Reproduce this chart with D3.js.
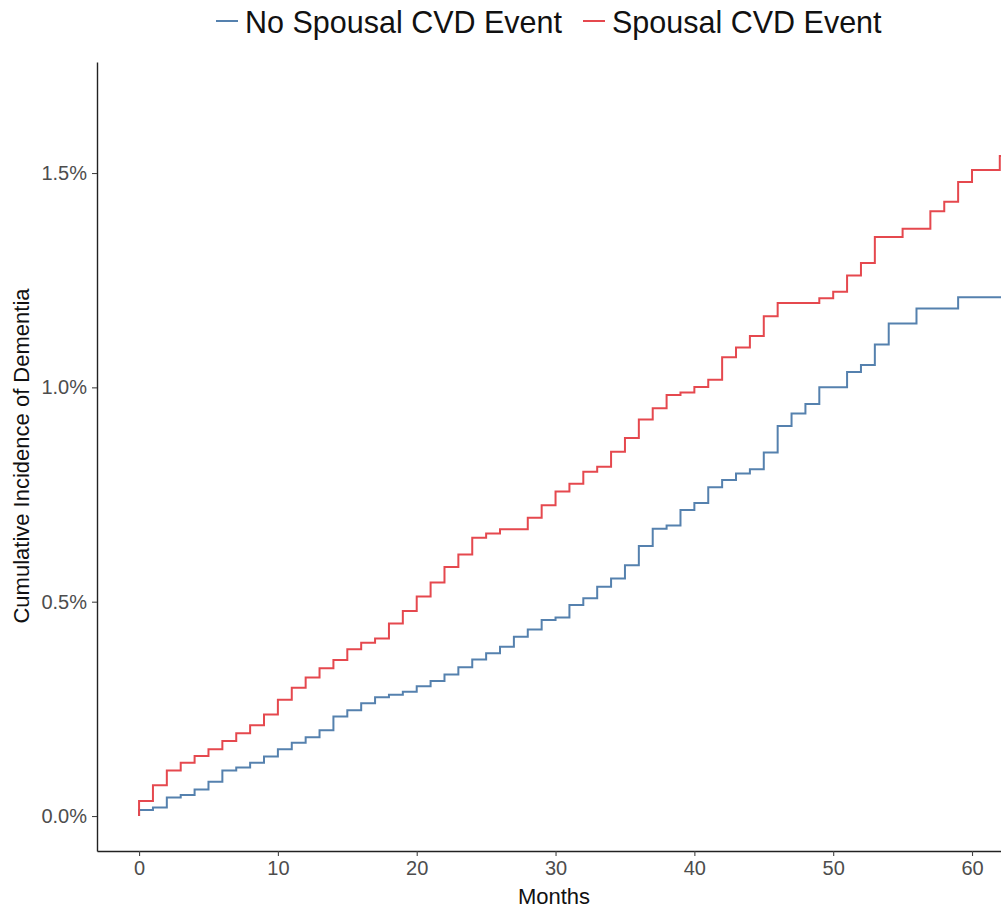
<!DOCTYPE html>
<html>
<head>
<meta charset="utf-8">
<script src="https://cdn.jsdelivr.net/npm/d3@7"></script>
<style>
  body { margin: 0; background: #fff; }
  svg { display: block; font-family: "Liberation Sans", Arial, sans-serif; }
</style>
</head>
<body>
<svg id="chart" width="1001" height="909"></svg>
<script>
// month of each step (0 repeated so the curve starts from 0)
const months = [0, 0, 1, 2, 3, 4, 5, 6, 7, 8, 9, 10, 11, 12, 13, 14, 15, 16, 17, 18, 19, 20,
  21, 22, 23, 24, 25, 26, 27, 28, 29, 30, 31, 32, 33, 34, 35, 36, 37, 38, 39, 40,
  41, 42, 43, 44, 45, 46, 47, 48, 49, 50, 51, 52, 53, 54, 55, 56, 57, 58, 59, 60, 61, 62, 63];

// cumulative incidence (%)
const noSpousal = [0, 0.014, 0.020, 0.043, 0.049, 0.062, 0.080, 0.106, 0.113, 0.124, 0.139, 0.156,
  0.171, 0.184, 0.200, 0.232, 0.247, 0.263, 0.277, 0.283, 0.290, 0.303,
  0.315, 0.330, 0.347, 0.365, 0.380, 0.395, 0.418, 0.435, 0.457, 0.463,
  0.492, 0.508, 0.535, 0.554, 0.585, 0.630, 0.670, 0.678, 0.714, 0.730,
  0.767, 0.784, 0.799, 0.809, 0.848, 0.910, 0.939, 0.961, 1.000, 1.000,
  1.036, 1.052, 1.100, 1.149, 1.149, 1.184, 1.184, 1.184, 1.210, 1.210, 1.210, 1.210, 1.210];

const spousal = [0, 0.035, 0.072, 0.106, 0.124, 0.140, 0.156, 0.175, 0.193, 0.212, 0.237, 0.271,
  0.299, 0.323, 0.345, 0.364, 0.389, 0.404, 0.414, 0.449, 0.478, 0.512,
  0.545, 0.581, 0.610, 0.649, 0.659, 0.669, 0.669, 0.696, 0.725, 0.757,
  0.775, 0.803, 0.815, 0.850, 0.882, 0.925, 0.951, 0.982, 0.988, 1.001,
  1.018, 1.070, 1.093, 1.120, 1.166, 1.197, 1.197, 1.197, 1.208, 1.223,
  1.261, 1.290, 1.351, 1.351, 1.370, 1.370, 1.411, 1.433, 1.479, 1.507, 1.507, 1.540, 1.540];

const xTicks = [0, 10, 20, 30, 40, 50, 60];
const yTicks = [0, 0.5, 1.0, 1.5];

const BLUE = '#5581ae';
const RED = '#e5484e';

const svg = d3.select('#chart');
const margin = { top: 62, left: 97, bottom: 851, right: 1012 };

const xScale = d3.scaleLinear()
    .domain([-3.03, 62.88])
    .range([margin.left, margin.right]);

const yScale = d3.scaleLinear()
    .domain([-0.0816, 1.759])
    .range([margin.bottom, margin.top]);

svg.append('defs').append('clipPath')
    .attr('id', 'plot-clip')
    .append('rect')
    .attr('x', margin.left)
    .attr('y', margin.top)
    .attr('width', margin.right - margin.left)
    .attr('height', margin.bottom - margin.top);

// Axes

const xAxis = d3.axisBottom(xScale)
    .tickValues(xTicks)
    .tickSize(5)
    .tickSizeOuter(0)
    .tickPadding(5)
    .tickFormat(d3.format('d'));

const yAxis = d3.axisLeft(yScale)
    .tickValues(yTicks)
    .tickSize(5)
    .tickSizeOuter(0)
    .tickPadding(5)
    .tickFormat(d => d.toFixed(1) + '%');

const gx = svg.append('g')
    .attr('class', 'x-axis')
    .attr('transform', `translate(0,${margin.bottom})`)
    .call(xAxis);

const gy = svg.append('g')
    .attr('class', 'y-axis')
    .attr('transform', `translate(${margin.left},0)`)
    .call(yAxis);

[gx, gy].forEach(g => {
    g.select('.domain').attr('stroke', '#222').attr('stroke-width', 1.4);
    g.selectAll('.tick line').attr('stroke', '#444').attr('stroke-width', 1.1);
    g.selectAll('.tick text')
        .attr('fill', '#4d4d4d')
        .attr('font-size', '20px')
        .attr('font-family', '"Liberation Sans", Arial, sans-serif');
});

// Lines

const line = d3.line()
    .x((_d, i) => xScale(months[i]))
    .y(d => yScale(d))
    .curve(d3.curveStepAfter);

const plot = svg.append('g').attr('clip-path', 'url(#plot-clip)');

plot.append('path')
    .datum(noSpousal)
    .attr('fill', 'none')
    .attr('stroke', BLUE)
    .attr('stroke-width', 2)
    .attr('d', line);

plot.append('path')
    .datum(spousal)
    .attr('fill', 'none')
    .attr('stroke', RED)
    .attr('stroke-width', 2)
    .attr('d', line);

// Labels

svg.append('text')
    .attr('text-anchor', 'middle')
    .attr('x', 554)
    .attr('y', 904)
    .attr('fill', '#111')
    .attr('font-size', '22px')
    .text('Months');

svg.append('text')
    .attr('text-anchor', 'middle')
    .attr('transform', 'translate(29,456) rotate(-90)')
    .attr('fill', '#111')
    .attr('font-size', '22px')
    .text('Cumulative Incidence of Dementia');

// Legend

const legend = [
    { label: 'No Spousal CVD Event', color: BLUE, x: 216 },
    { label: 'Spousal CVD Event', color: RED, x: 583 }
];

const lg = svg.append('g').attr('class', 'legend');

legend.forEach(item => {
    lg.append('line')
        .attr('x1', item.x)
        .attr('x2', item.x + 22)
        .attr('y1', 21)
        .attr('y2', 21)
        .attr('stroke', item.color)
        .attr('stroke-width', 2);
    lg.append('text')
        .attr('x', item.x + 29)
        .attr('y', 33)
        .attr('fill', '#111')
        .attr('font-size', '30.5px')
        .text(item.label);
});
</script>
</body>
</html>
